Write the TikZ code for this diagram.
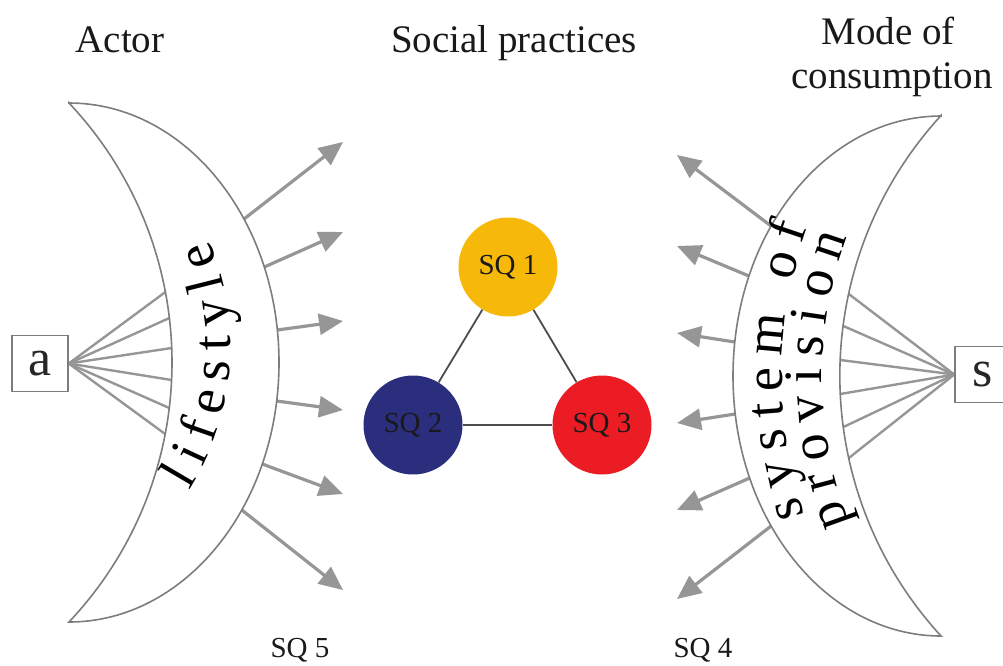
\documentclass[tikz,border=0pt]{standalone}
\usepackage{fontspec}
\setmainfont{Liberation Serif}
\usetikzlibrary{arrows.meta,decorations.text}
\definecolor{sqyellow}{RGB}{246,185,10}
\definecolor{sqblue}{RGB}{43,46,125}
\definecolor{sqred}{RGB}{236,28,36}
\definecolor{arrgray}{RGB}{150,150,150}
\definecolor{linegray}{RGB}{125,125,125}
\newcommand\crescfont{\fontsize{54}{56}\selectfont}
\begin{document}
\begin{tikzpicture}[x=1pt,y=1pt,
  arr/.style={draw=arrgray, line width=3.2pt, -{Triangle[length=24pt,width=21pt]}, shorten <=-6pt},
  fan/.style={draw=arrgray, line width=2.4pt, shorten >=-6pt},
  crescent/.style={draw=linegray, line width=1.6pt, fill=white, line join=miter},
  lbl/.style={font=\fontsize{39}{44}\selectfont, anchor=base, text=black!90},
  sq/.style={circle, minimum size=99pt, inner sep=0pt, font=\fontsize{29}{30}\selectfont, text=black!90},
  small/.style={font=\fontsize{29}{30}\selectfont, anchor=base, text=black!90},
  boxnode/.style={draw=linegray, line width=1.5pt, fill=white, minimum width=56pt, minimum height=56pt, inner sep=0pt, font=\fontsize{52}{52}\selectfont, text=black!85},
  edge/.style={draw=black!70, line width=1.8pt}]
\useasboundingbox (0,0) rectangle (1003,-665);
\clip (0,0) rectangle (1003,-665);

% boxes
\node[boxnode] (a) at (40,-363.5) {a};
\node[boxnode] (s) at (983,-374.5) {s};

% fan end points on inner arcs
\coordinate (lf1) at (165.4,-292);
\coordinate (lf2) at (169.4,-318);
\coordinate (lf3) at (171.7,-348);
\coordinate (lf4) at (171.6,-380);
\coordinate (lf5) at (169.3,-408);
\coordinate (lf6) at (165.2,-434);
\coordinate (rf1) at (848.8,-294);
\coordinate (rf2) at (843.3,-326);
\coordinate (rf3) at (840.3,-360);
\coordinate (rf4) at (840.4,-394);
\coordinate (rf5) at (843.4,-427);
\coordinate (rf6) at (848.8,-458);
% arrow starts and tips
\coordinate (ls1) at (244,-219);   \coordinate (lt1) at (343,-142);
\coordinate (ls2) at (264.3,-267); \coordinate (lt2) at (343,-232);
\coordinate (ls3) at (277.3,-330); \coordinate (lt3) at (343,-321);
\coordinate (ls4) at (276.7,-401); \coordinate (lt4) at (343,-410);
\coordinate (ls5) at (262.3,-464); \coordinate (lt5) at (343,-494);
\coordinate (ls6) at (241.8,-510); \coordinate (lt6) at (343,-590);
\coordinate (rs1) at (771.1,-226); \coordinate (rt1) at (677,-155);
\coordinate (rs2) at (749,-276);   \coordinate (rt2) at (677,-246);
\coordinate (rs3) at (734.8,-342); \coordinate (rt3) at (677,-333);
\coordinate (rs4) at (735.2,-414); \coordinate (rt4) at (677,-423);
\coordinate (rs5) at (749.7,-478); \coordinate (rt5) at (677,-510);
\coordinate (rs6) at (771.1,-526); \coordinate (rt6) at (677,-599);

\foreach \n in {1,...,6} {
  \draw[fan] (a.east) -- (lf\n);
  \draw[fan] (s.west) -- (rf\n);
  \draw[arr] (ls\n) -- (lt\n);
  \draw[arr] (rs\n) -- (rt\n);
}

% crescents
\draw[crescent] (69,-103) arc[start angle=90, end angle=-90, x radius=210, y radius=259.5]
   arc[start angle=-43.3, end angle=43.3, radius=378.4] -- cycle;
\draw[crescent] (941,-116) arc[start angle=90, end angle=270, x radius=208, y radius=260]
   arc[start angle=222.5, end angle=137.5, radius=385.2] -- cycle;

% boxes redrawn on top
\node[boxnode] at (a) {a};
\node[boxnode] at (s) {s};

% curved texts
\path[decorate, decoration={text along path, text={|\crescfont|lifestyle}, text align={fit to path}}]
  (189.4,-490) arc[start angle=-32.05, end angle=23.08, radius=271];
\path[decorate, decoration={text along path, text={|\crescfont|system of}, text align={fit to path}}]
  (804.6,-515) arc[start angle=198.5, end angle=160.23, radius=438];
\path[decorate, decoration={text along path, text={|\crescfont|provision}, text align={fit to path}}]
  (850.1,-523) arc[start angle=201.67, end angle=159.56, radius=398];

% social practices triangle
\node[sq, fill=sqyellow] (sq1) at (508,-267) {SQ 1};
\node[sq, fill=sqblue] (sq2) at (413,-425) {SQ 2};
\node[sq, fill=sqred] (sq3) at (602,-425) {SQ 3};
\draw[edge] (sq1) -- (sq2);
\draw[edge] (sq1) -- (sq3);
\draw[edge] (sq2) -- (sq3);

% headings
\node[lbl] (actor) at (120,-52) {Actor};
\node[lbl] (social) at (514,-52) {Social practices};
\node[lbl] (mode) at (888,-44) {Mode of};
\node[lbl] (cons) at (892,-88) {consumption};
\node[small] (sq5) at (300,-657) {SQ 5};
\node[small] (sq4) at (703,-657) {SQ 4};
\end{tikzpicture}
\end{document}
